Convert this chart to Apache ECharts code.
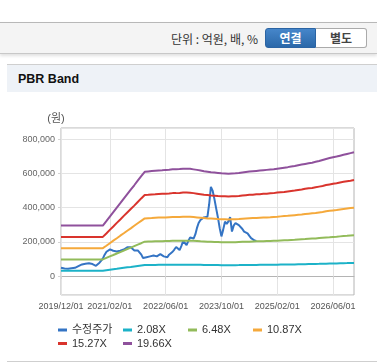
<!DOCTYPE html>
<html><head><meta charset="utf-8">
<script src="https://cdn.jsdelivr.net/npm/echarts@6/dist/echarts.min.js"></script>
<style>
html,body{margin:0;padding:0;background:#fff;width:377px;height:364px;overflow:hidden;font-family:"Liberation Sans","Noto Sans CJK KR",sans-serif;}
#bar{position:absolute;left:0;top:22px;width:377px;height:30px;background:#f4f4f4;border-top:1px solid #b8b8b8;border-bottom:1px solid #c8c8c8;box-shadow:0 2px 3px rgba(0,0,0,0.12);}
#unit{position:absolute;right:119px;top:31px;font-size:12px;line-height:16px;color:#333;font-family:"Noto Sans CJK KR",sans-serif;}
.btn{position:absolute;top:28px;height:20px;box-sizing:border-box;font-size:12px;font-weight:bold;line-height:18px;text-align:center;font-family:"Noto Sans CJK KR",sans-serif;}
#b1{left:265px;width:51px;background:linear-gradient(#4686ca,#2b68a9);color:#fff;border:1px solid #2b64a3;border-radius:3px 0 0 3px;}
#b2{left:316px;width:51px;background:#fff;color:#444;border:1px solid #aaa;border-left:none;border-radius:0 3px 3px 0;}
#panel{position:absolute;left:7px;top:64px;width:370px;height:27px;background:#eef2f7;border-top:1px solid #cfcfcf;}
#title{position:absolute;left:11px;top:7px;font-size:12.5px;line-height:15px;font-weight:bold;color:#111;}
#bottom{position:absolute;left:7px;top:361px;width:370px;height:0;border-top:1px solid #cfcfcf;}
#chart{position:absolute;left:0;top:0;width:377px;height:364px;z-index:2;}
</style></head>
<body>
<div id="bar"></div>
<div id="unit">단위 : 억원, 배, %</div>
<div id="b1" class="btn">연결</div>
<div id="b2" class="btn">별도</div>
<div id="panel"><div id="title">PBR Band</div></div>
<div id="bottom"></div>
<div id="chart"></div>
<script>
// monthly categories 2019/12/01 .. 2026/12/01
const categories = [];
for (let y = 2019, m = 12; categories.length < 85;) {
  categories.push(y + '/' + String(m).padStart(2, '0') + '/01');
  m++; if (m > 12) { m = 1; y++; }
}
const tickLabels = ['2019/12/01','2021/02/01','2022/06/01','2023/10/01','2025/02/01','2026/06/01'];
const seriesNames = ['수정주가','2.08X','6.48X','10.87X','15.27X','19.66X'];

const band2_08 = [31000,31000,31000,31000,31000,31000,31000,31000,31000,31000,31000,31000,31000,
 34000,36800,39600,42300,45100,47900,50700,53400,56200,59000,61800,64500,
 64700,65000,65200,65400,65500,65700,65800,66000,66100,66200,66400,66400,
 66300,66000,65700,65300,64900,64500,64200,64000,63800,63600,63500,63400,
 63500,63600,63800,64100,64400,64600,64900,65100,65300,65500,65700,65900,
 66100,66400,66800,67100,67400,67800,68100,68600,69000,69400,69800,70100,
 70700,71200,71800,72500,73000,73500,74000,74500,75000,75500,76100,76600];
const band6_48 = [97000,97000,97000,97000,97000,97000,97000,97000,97000,97000,97000,97000,97000,
 106000,115000,123000,132000,140000,149000,158000,166000,175000,184000,192000,201000,
 202000,202000,203000,204000,204000,205000,205000,206000,206000,206000,207000,207000,
 207000,206000,205000,203000,202000,201000,200000,199000,199000,198000,198000,197000,
 198000,198000,199000,200000,201000,201000,202000,203000,203000,204000,205000,205000,
 206000,207000,208000,209000,210000,211000,212000,214000,215000,216000,218000,219000,
 220000,222000,224000,226000,227000,229000,230000,232000,234000,235000,237000,239000];
const band10_87 = [163000,163000,163000,163000,163000,163000,163000,163000,163000,163000,163000,163000,163000,
 177000,192000,207000,221000,236000,250000,265000,279000,294000,309000,323000,337000,
 338000,339000,341000,342000,342000,343000,344000,345000,346000,346000,347000,347000,
 347000,345000,343000,341000,339000,337000,336000,335000,333000,332000,332000,331000,
 332000,332000,333000,335000,337000,338000,339000,340000,341000,342000,343000,344000,
 346000,347000,349000,351000,352000,354000,356000,358000,360000,363000,365000,367000,
 369000,372000,375000,379000,382000,384000,386000,389000,392000,395000,398000,400000];
const band15_27 = [229000,229000,229000,229000,229000,229000,229000,229000,229000,229000,229000,229000,229000,
 249000,270000,290000,311000,331000,352000,372000,392000,412000,433000,454000,474000,
 475000,477000,478000,480000,481000,482000,483000,485000,485000,486000,488000,488000,
 487000,485000,482000,479000,476000,474000,471000,470000,468000,467000,466000,465000,
 466000,467000,468000,471000,473000,475000,476000,478000,479000,481000,482000,484000,
 485000,488000,490000,492000,495000,498000,500000,503000,506000,510000,513000,515000,
 519000,523000,527000,532000,536000,540000,543000,547000,551000,555000,558000,562000];
const band19_66 = [295000,295000,295000,295000,295000,295000,295000,295000,295000,295000,295000,295000,295000,
 321000,348000,374000,400000,426000,453000,479000,505000,531000,558000,584000,610000,
 612000,614000,616000,618000,619000,621000,622000,624000,625000,626000,628000,628000,
 627000,624000,621000,617000,613000,610000,607000,605000,603000,601000,600000,599000,
 600000,601000,603000,606000,609000,611000,613000,615000,617000,619000,621000,623000,
 625000,628000,631000,634000,637000,641000,644000,648000,652000,656000,660000,663000,
 668000,673000,679000,685000,690000,695000,699000,704000,709000,714000,719000,724000];

const priceDates = [
 '2019-12-01','2019-12-16','2020-01-01','2020-01-16','2020-02-01','2020-02-16','2020-03-01','2020-03-16',
 '2020-04-01','2020-04-16','2020-05-01','2020-05-16','2020-06-01','2020-06-16','2020-07-01','2020-07-16',
 '2020-08-01','2020-08-16','2020-09-01','2020-09-16','2020-10-01','2020-10-16','2020-11-01','2020-11-16',
 '2020-12-01','2020-12-16','2021-01-01','2021-01-16','2021-02-01','2021-02-16','2021-03-01','2021-03-16',
 '2021-04-01','2021-04-16','2021-05-01','2021-05-16','2021-06-01','2021-06-16','2021-07-01','2021-07-16',
 '2021-08-01','2021-08-16','2021-09-01','2021-09-16','2021-10-01','2021-10-16','2021-11-01','2021-11-16',
 '2021-12-01','2021-12-16','2022-01-01','2022-01-16','2022-02-01','2022-02-16','2022-03-01','2022-03-16',
 '2022-04-01','2022-04-16','2022-05-01','2022-05-16','2022-06-01','2022-06-16','2022-07-01','2022-07-16',
 '2022-08-01','2022-08-16','2022-09-01','2022-09-16','2022-10-01','2022-10-16','2022-11-01','2022-11-16',
 '2022-12-01','2022-12-16','2023-01-01','2023-01-16','2023-02-01','2023-02-16','2023-03-01','2023-03-16',
 '2023-04-01','2023-04-16','2023-05-01','2023-05-16','2023-06-01','2023-06-16','2023-07-01','2023-07-16',
 '2023-08-01','2023-08-16','2023-09-01','2023-09-16','2023-10-01','2023-10-16','2023-11-01','2023-11-16',
 '2023-12-01','2023-12-16','2024-01-01','2024-01-16','2024-02-01','2024-02-16','2024-03-01','2024-03-16',
 '2024-04-01','2024-04-16','2024-05-01','2024-05-16','2024-06-01','2024-06-16','2024-07-01','2024-07-16',
 '2024-08-01'];
const priceValues = [
 48000,47000,44000,41000,43000,45000,46000,45000,
 48000,50000,58000,65000,68000,70000,72000,74000,
 75000,74000,70000,62000,60000,68000,78000,90000,
 103000,125000,142000,150000,156000,152000,148000,146000,
 144000,146000,148000,150000,155000,163000,168000,174000,
 168000,160000,150000,145000,150000,148000,125000,105000,
 108000,110000,107000,115000,123000,120000,113000,115000,
 122000,128000,125000,115000,105000,110000,125000,135000,
 142000,155000,170000,160000,152000,175000,205000,195000,
 181000,205000,225000,222000,220000,245000,280000,310000,
 328000,338000,343000,345000,347000,420000,522000,500000,
 450000,396000,340000,280000,232000,270000,318000,305000,
 320000,345000,260000,295000,310000,305000,298000,290000,
 275000,260000,255000,250000,235000,222000,212000,208000,
 205000];

const colors = ['#3474c4','#1cb2c8','#92bb5a','#f5a93b','#d9342d','#8f519c'];
const showTick = (idx, val) => tickLabels.indexOf(val) >= 0;
const FONT = '"Liberation Sans","Noto Sans CJK KR",sans-serif';

const bandData = [band2_08, band6_48, band10_87, band15_27, band19_66];
const series = [{
  name: seriesNames[0], type: 'line', xAxisIndex: 1, showSymbol: false, symbol: 'none',
  data: priceDates.map((d, k) => [d, priceValues[k]]),
  lineStyle: { width: 2, color: colors[0] }, itemStyle: { color: colors[0] }
}];
bandData.forEach((arr, k) => {
  series.push({
    name: seriesNames[k + 1], type: 'line', xAxisIndex: 0, showSymbol: false, symbol: 'none',
    data: arr, lineStyle: { width: 2, color: colors[k + 1] }, itemStyle: { color: colors[k + 1] }
  });
});

const legendPos = [[58, 323], [123, 323], [188, 323], [253, 323], [58, 336.5], [123, 336.5]];
const legends = seriesNames.map((n, k) => ({
  data: [n], left: legendPos[k][0], top: legendPos[k][1], padding: 0, itemGap: 0,
  icon: 'rect', itemWidth: 9, itemHeight: 3, selectedMode: false,
  textStyle: { fontSize: 11, color: '#333', fontFamily: FONT, lineHeight: 14 }
}));

const chart = echarts.init(document.getElementById('chart'), null, { renderer: 'canvas' });
chart.setOption({
  animation: false,
  textStyle: { fontFamily: FONT },
  grid: { left: 61, top: 128, right: 23, bottom: 69, show: true, borderColor: '#b4b4b4', borderWidth: 1, containLabel: false },
  legend: legends,
  xAxis: [{
    type: 'category', data: categories, boundaryGap: false,
    axisLine: { show: true, lineStyle: { color: '#b4b4b4' } },
    axisTick: { show: true, interval: showTick, length: 3, lineStyle: { color: '#d4d4d4' } },
    axisLabel: { interval: showTick, color: '#555', fontSize: 9, margin: 7, fontFamily: FONT },
    splitLine: { show: true, interval: showTick, lineStyle: { color: '#e4e4e4' } }
  }, {
    type: 'time', show: false, position: 'bottom',
    min: +new Date(2019, 11, 1), max: +new Date(2026, 11, 1)
  }],
  yAxis: {
    type: 'value', min: -111000, max: 866000, splitNumber: 5,
    name: '(원)', nameLocation: 'end', nameGap: 4,
    nameTextStyle: { color: '#555', fontSize: 11, padding: [0, 10, 0, 0], fontFamily: FONT },
    axisLine: { show: false },
    axisTick: { show: true, length: 3, lineStyle: { color: '#d4d4d4' } },
    axisLabel: {
      color: '#666', fontSize: 9, margin: 6, fontFamily: FONT, showMinLabel: false, showMaxLabel: false,
      formatter: v => (v % 200000 === 0 ? echarts.format.addCommas(v) : '')
    },
    splitLine: { lineStyle: { color: '#e4e4e4' } }
  },
  series: series
});
</script>
</body></html>
